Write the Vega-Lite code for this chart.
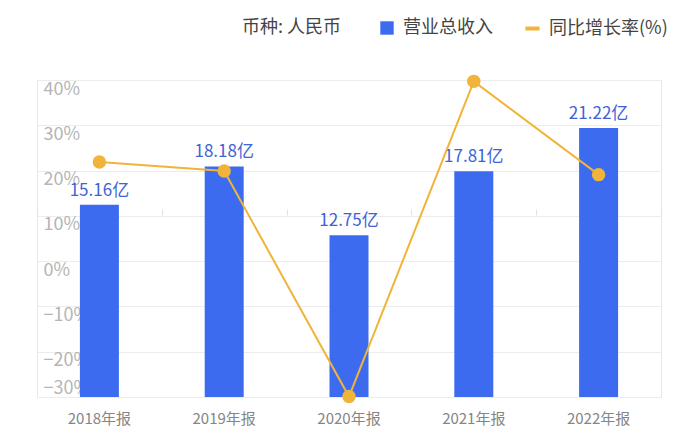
{
  "$schema": "https://vega.github.io/schema/vega-lite/v6.json",
  "width": 624,
  "height": 317,
  "autosize": {"type": "none"},
  "padding": {"left": 37, "top": 80, "right": 39, "bottom": 50},
  "background": "#ffffff",
  "config": {
    "font": "Noto Sans CJK SC",
    "view": {"stroke": "#e8e8e8", "strokeWidth": 1}
  },
  "data": {
    "values": [
      {"year": "2018年报", "revenue": 15.16, "label": "15.16亿", "growth": 21.9},
      {"year": "2019年报", "revenue": 18.18, "label": "18.18亿", "growth": 19.9},
      {"year": "2020年报", "revenue": 12.75, "label": "12.75亿", "growth": -29.9},
      {"year": "2021年报", "revenue": 17.81, "label": "17.81亿", "growth": 39.7},
      {"year": "2022年报", "revenue": 21.22, "label": "21.22亿", "growth": 19.1}
    ]
  },
  "layer": [
    {
      "layer": [
        {
          "mark": {"type": "bar", "size": 39},
          "encoding": {
            "x": {
              "field": "year", "type": "nominal", "sort": null,
              "scale": {"paddingInner": 0, "paddingOuter": 0},
              "axis": {"title": null, "labelAngle": 0, "ticks": false, "domain": false, "grid": false,
                       "labelFontSize": 15, "labelColor": "#858585", "labelPadding": 14}
            },
            "y": {"field": "revenue", "type": "quantitative", "scale": {"domain": [0, 25], "nice": false}, "axis": null},
            "color": {
              "datum": "营业总收入",
              "scale": {"range": ["#3D6BF0"]},
              "legend": {
                "orient": "none", "legendX": 205, "legendY": -61, "direction": "horizontal",
                "title": "币种: 人民币", "titleOrient": "left", "titleFontSize": 18, "titleFontWeight": "normal",
                "titleColor": "#444444", "titlePadding": 36, "symbolType": "square", "symbolSize": 180,
                "labelFontSize": 18, "labelColor": "#444444", "labelOffset": 7, "padding": 0
              }
            }
          }
        },
        {
          "mark": {"type": "text", "baseline": "bottom", "dy": -5, "fontSize": 17, "color": "#3e63d8"},
          "encoding": {
            "x": {"field": "year", "type": "nominal", "sort": null},
            "y": {"field": "revenue", "type": "quantitative"},
            "text": {"field": "label"}
          }
        }
      ]
    },
    {
      "layer": [
        {
          "mark": {"type": "line", "strokeWidth": 2},
          "encoding": {
            "x": {
              "field": "year", "type": "nominal", "sort": null,
              "axis": {"title": null, "labels": false, "domain": false, "grid": false, "ticks": true,
                       "tickBand": "extent", "tickColor": "#e0e0e0", "tickSize": 6, "offset": -135}
            },
            "y": {
              "field": "growth", "type": "quantitative",
              "scale": {"domain": [-30, 40], "nice": false, "zero": false},
              "axis": {
                "orient": "left",
                "title": null, "values": [-30, -20, -10, 0, 10, 20, 30, 40],
                "labelExpr": "format(datum.value, 'd') + '%'",
                "grid": true, "gridColor": "#ececec", "domain": false, "ticks": false,
                "labelAlign": "left", "labelPadding": -6,
                "labelBaseline": {"condition": {"test": "datum.value === -30", "value": "bottom"}, "value": "top"},
                "labelFontSize": 18, "labelColor": "#b5b5b5"
              }
            },
            "stroke": {
              "datum": "同比增长率(%)",
              "scale": {"range": ["#F0B43A"]},
              "legend": {
                "orient": "none", "legendX": 486, "legendY": -61, "title": null,
                "symbolType": "stroke", "symbolStrokeWidth": 4, "symbolSize": 200,
                "labelFontSize": 18, "labelColor": "#444444", "labelOffset": 7, "padding": 0
              }
            }
          }
        },
        {
          "mark": {"type": "point", "filled": true, "size": 180, "opacity": 1, "color": "#F0B43A"},
          "encoding": {
            "x": {"field": "year", "type": "nominal", "sort": null},
            "y": {"field": "growth", "type": "quantitative"}
          }
        }
      ]
    }
  ],
  "resolve": {"scale": {"y": "independent"}, "axis": {"x": "independent"}}
}
